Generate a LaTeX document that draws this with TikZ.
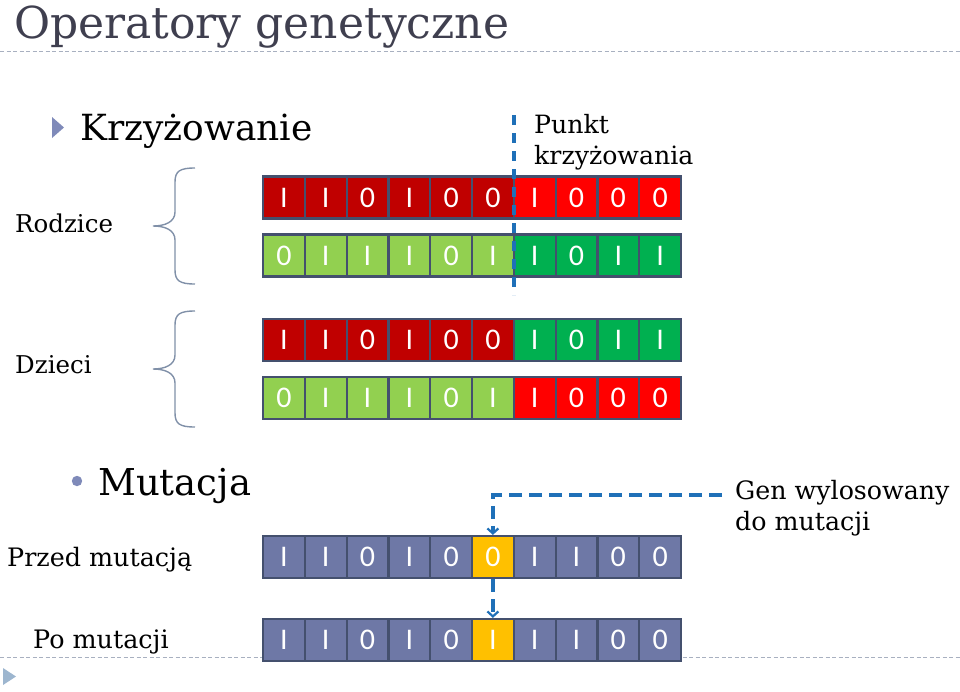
\documentclass[tikz,border=0pt]{standalone}
\usepackage{fontspec}
\setmainfont{DejaVu Serif}
\newfontfamily\cellfont{Carlito}
\usetikzlibrary{arrows.meta}
\definecolor{dred}{HTML}{C00000}
\definecolor{bred}{HTML}{FF0000}
\definecolor{lgreen}{HTML}{92D050}
\definecolor{dgreen}{HTML}{00B050}
\definecolor{slate}{HTML}{6E78A6}
\definecolor{gold}{HTML}{FFC000}
\definecolor{cellline}{HTML}{44506E}
\definecolor{conn}{HTML}{1F70B8}
\definecolor{rule}{HTML}{A8B0C0}
\definecolor{bulletc}{HTML}{7F8AB9}
\definecolor{bottomtri}{HTML}{9DB6CF}
\definecolor{bracec}{HTML}{8090A8}
\definecolor{titlec}{HTML}{3F3F4F}
\tikzset{
  cell/.style={draw=cellline, line width=2.2pt, minimum width=41.8pt, minimum height=42pt,
    inner sep=0pt, text=white, font=\cellfont\fontsize{30}{30}\selectfont},
  lbl/.style={anchor=base west, inner sep=0pt, font=\fontsize{25.3}{30.5}\selectfont, align=left},
  bigl/.style={anchor=base west, inner sep=0pt},
  crossline/.style={draw=conn, line width=3.5pt, dash pattern=on 10pt off 8pt},
  mutline/.style={draw=conn, line width=3.5pt, dash pattern=on 13pt off 7pt},
  mutarrow/.style={-{Straight Barb[length=5pt,width=11pt,line width=2.2pt]}},
  graydash/.style={draw=rule, line width=1pt, dash pattern=on 4pt off 2.5pt},
  bracestyle/.style={draw=bracec, line width=1.4pt},
}
\newcommand\genrow[5]{%
  \foreach \v [count=\i] in {#3} {
    \ifnum\i<7 \def\fc{#4}\else\def\fc{#5}\fi
    \node[cell, fill=\fc] (#1\i) at ({263+(\i-0.5)*41.8},#2) {\v};
  }}
\newcommand\mutrow[3]{%
  \foreach \v [count=\i] in {#3} {
    \ifnum\i=6 \def\fc{gold}\else\def\fc{slate}\fi
    \node[cell, fill=\fc] (#1\i) at ({263+(\i-0.5)*41.8},#2) {\v};
  }}
\newcommand\mybrace[4]{% x of tip, y top, y mid, y bottom
  \draw[bracestyle] (#1+42,#2) .. controls (#1+27,#2) and (#1+22,#2+3) .. (#1+22,#2+14)
    -- (#1+22,#3-14) .. controls (#1+22,#3-4) and (#1+12,#3) .. (#1,#3)
    .. controls (#1+12,#3) and (#1+22,#3+4) .. (#1+22,#3+14)
    -- (#1+22,#4-14) .. controls (#1+22,#4-3) and (#1+27,#4) .. (#1+42,#4);}
\begin{document}
\begin{tikzpicture}[x=1pt,y=-1pt]
\useasboundingbox (0,0) rectangle (960,691);
% title
\node[anchor=base west, inner sep=0pt, text=titlec, font=\fontsize{44}{48}\selectfont] (title) at (14,38) {Operatory genetyczne};
\draw[graydash] (0,51) -- (960,51);
\draw[graydash] (0,657) -- (960,657);
\fill[bottomtri] (3,668) -- (16,676.5) -- (3,685) -- cycle;
% crossover
\fill[bulletc] (52,117) -- (64,127.5) -- (52,138) -- cycle;
\node[bigl, font=\fontsize{36}{40}\selectfont] (krz) at (80,140) {Krzyżowanie};
\node[lbl, font=\fontsize{25.2}{31}\selectfont] (punkt) at (534,164) {Punkt\\krzyżowania};
\node[lbl, font=\fontsize{24.5}{30}\selectfont] (rodzice) at (15,232) {Rodzice};
\node[lbl, font=\fontsize{24.5}{30}\selectfont] (dzieci) at (15,373) {Dzieci};
\mybrace{153}{168}{226}{284}
\mybrace{153}{311}{369}{427}
\genrow{pa}{197.5}{I,I,0,I,0,0,I,0,0,0}{dred}{bred}
\genrow{pb}{255.5}{0,I,I,I,0,I,I,0,I,I}{lgreen}{dgreen}
\genrow{ca}{340}{I,I,0,I,0,0,I,0,I,I}{dred}{dgreen}
\genrow{cb}{398}{0,I,I,I,0,I,I,0,0,0}{lgreen}{bred}
\coordinate (cpt) at (513.8,115);
\coordinate (cpb) at (513.8,295);
\draw[crossline] (cpt) -- (cpb);
% mutation
\fill[bulletc] (77,481) circle (5.2);
\node[bigl, font=\fontsize{37}{40}\selectfont] (mut) at (98,495) {Mutacja};
\node[lbl, font=\fontsize{25.4}{30}\selectfont] (przed) at (7,566) {Przed mutacją};
\node[lbl, font=\fontsize{25.4}{30}\selectfont] (po) at (33,648) {Po mutacji};
\node[lbl] (gen) at (735,530) {Gen wylosowany\\do mutacji};
\mutrow{ma}{557}{I,I,0,I,0,0,I,I,0,0}
\mutrow{mb}{640}{I,I,0,I,0,I,I,I,0,0}
\coordinate (gl) at (722,495);
\draw[mutline, mutarrow] (gl) -| (ma6.north);
\draw[mutline, mutarrow] (ma6.south) -- (mb6.north);
\end{tikzpicture}
\end{document}
